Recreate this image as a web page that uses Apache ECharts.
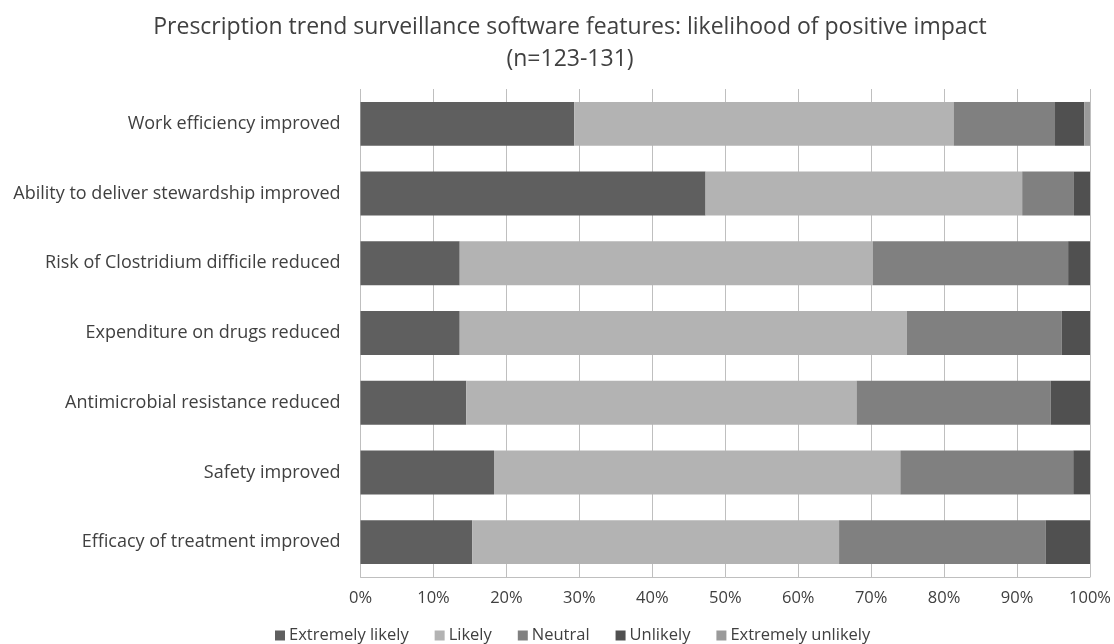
<!DOCTYPE html>
<html>
<head>
<meta charset="utf-8">
<script src="https://cdn.jsdelivr.net/npm/echarts@6/dist/echarts.min.js"></script>
<style>
  html, body { margin: 0; padding: 0; background: #fff; }
  #chart { width: 1114px; height: 644px; }
</style>
</head>
<body>
<div id="chart"></div>
<script>
// Survey items, listed bottom to top as the category axis draws them
const categories = [
  'Efficacy of treatment improved',
  'Safety improved',
  'Antimicrobial resistance reduced',
  'Expenditure on drugs reduced',
  'Risk of Clostridium difficile reduced',
  'Ability to deliver stewardship improved',
  'Work efficiency improved'
];

// Share of respondents (%) per response, same order as categories
const extremelyLikely   = [15.3, 18.3, 14.5, 13.6, 13.6, 47.3, 29.3];
const likely            = [50.3, 55.7, 53.5, 61.3, 56.6, 43.4, 52.0];
const neutral           = [28.3, 23.7, 26.6, 21.2, 26.8, 7.1, 13.9];
const unlikely          = [6.1, 2.3, 5.4, 3.9, 3.0, 2.2, 4.0];
const extremelyUnlikely = [0, 0, 0, 0, 0, 0, 0.8];

const seriesNames = ['Extremely likely', 'Likely', 'Neutral', 'Unlikely', 'Extremely unlikely'];
const seriesValues = [extremelyLikely, likely, neutral, unlikely, extremelyUnlikely];
const seriesColors = ['#5f5f5f', '#b3b3b3', '#808080', '#505050', '#9a9a9a'];

const font = '"Open Sans", "Noto Sans", sans-serif';
const textColor = '#404040';

const chart = echarts.init(document.getElementById('chart'), null, { renderer: 'canvas' });

chart.setOption({
  backgroundColor: '#ffffff',
  animation: false,
  title: {
    text: 'Prescription trend surveillance software features: likelihood of positive impact\n(n=123-131)',
    left: 565,
    top: 6,
    textAlign: 'center',
    textStyle: {
      fontFamily: font,
      fontSize: 23,
      fontWeight: 'normal',
      color: textColor,
      lineHeight: 32
    }
  },
  legend: {
    top: 622,
    left: 270,
    icon: 'rect',
    itemWidth: 10,
    itemHeight: 10,
    itemGap: 26,
    textStyle: { fontFamily: font, fontSize: 16.5, color: textColor, padding: [0, 0, 0, -1] },
    data: seriesNames
  },
  grid: {
    left: 360.5,
    right: 23,
    top: 89,
    bottom: 67,
    containLabel: false
  },
  xAxis: {
    type: 'value',
    min: 0,
    max: 100,
    interval: 10,
    axisLine: { show: true, lineStyle: { color: '#bfbfbf', width: 1 } },
    axisTick: { show: false },
    splitLine: { show: true, lineStyle: { color: '#bfbfbf', width: 1 } },
    axisLabel: {
      formatter: '{value}%',
      fontFamily: font,
      fontSize: 16.5,
      color: textColor,
      margin: 13
    }
  },
  yAxis: {
    type: 'category',
    data: categories,
    axisLine: { show: false },
    axisTick: { show: false },
    axisLabel: {
      fontFamily: font,
      fontSize: 18,
      color: textColor,
      margin: 20
    }
  },
  series: seriesNames.map((name, i) => ({
    name: name,
    type: 'bar',
    stack: 'total',
    barCategoryGap: '37%',
    data: seriesValues[i],
    itemStyle: { color: seriesColors[i] },
    emphasis: { disabled: true }
  }))
});
</script>
</body>
</html>
